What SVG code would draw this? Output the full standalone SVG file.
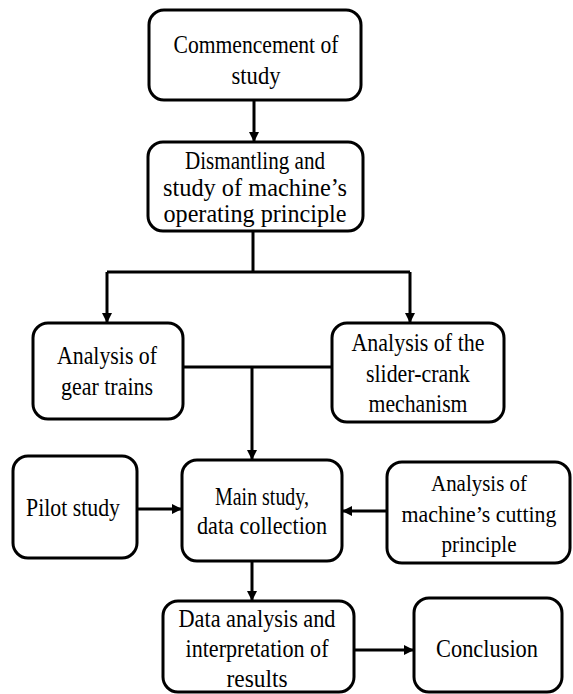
<svg xmlns="http://www.w3.org/2000/svg" width="573" height="694" viewBox="0 0 573 694">
<style>
.box{fill:#fff;stroke:#000;stroke-width:3}
.t{font-family:"Liberation Serif","Times New Roman",serif;font-size:25px;fill:#000;text-anchor:middle}
.s{font-size:23px}
.c{fill:none;stroke:#000;stroke-width:3}
</style>
<defs>
<marker id="ah" markerWidth="10" markerHeight="10" refX="9" refY="5" orient="auto" markerUnits="userSpaceOnUse">
<path d="M0,0 L10,5 L0,10 z" fill="#000"/>
</marker>
</defs>
<rect width="573" height="694" fill="#fff"/>
<g id="connectors">
<path class="c" d="M254,100 V141" marker-end="url(#ah)"/>
<path class="c" d="M253,231 V272"/>
<path class="c" d="M107,272 H410"/>
<path class="c" d="M107,272 V322" marker-end="url(#ah)"/>
<path class="c" d="M410,272 V322" marker-end="url(#ah)"/>
<path class="c" d="M183,367 H332"/>
<path class="c" d="M252,367 V459" marker-end="url(#ah)"/>
<path class="c" d="M137,509 H181" marker-end="url(#ah)"/>
<path class="c" d="M387,511 H343" marker-end="url(#ah)"/>
<path class="c" d="M252,561 V600" marker-end="url(#ah)"/>
<path class="c" d="M354,650 H413" marker-end="url(#ah)"/>
</g>
<g id="n1"><rect class="box" x="149" y="10" width="212" height="90" rx="15"/>
<text class="t" x="256" y="53" textLength="165" lengthAdjust="spacingAndGlyphs">Commencement of</text><text class="t" x="256" y="84" textLength="49" lengthAdjust="spacingAndGlyphs">study</text></g>
<g id="n2"><rect class="box" x="148" y="142" width="215" height="89" rx="15"/>
<text class="t" x="255" y="169" textLength="140" lengthAdjust="spacingAndGlyphs">Dismantling and</text><text class="t" x="255" y="196" textLength="184" lengthAdjust="spacingAndGlyphs">study of machine’s</text><text class="t" x="255" y="222" textLength="183" lengthAdjust="spacingAndGlyphs">operating principle</text></g>
<g id="n3"><rect class="box" x="33" y="323" width="150" height="96" rx="15"/>
<text class="t" x="107" y="364" textLength="100" lengthAdjust="spacingAndGlyphs">Analysis of</text><text class="t" x="107" y="395" textLength="92" lengthAdjust="spacingAndGlyphs">gear trains</text></g>
<g id="n4"><rect class="box" x="332" y="323" width="172" height="99" rx="15"/>
<text class="t" x="418" y="351" textLength="133" lengthAdjust="spacingAndGlyphs">Analysis of the</text><text class="t" x="418" y="382" textLength="104" lengthAdjust="spacingAndGlyphs">slider-crank</text><text class="t" x="418" y="412" textLength="99" lengthAdjust="spacingAndGlyphs">mechanism</text></g>
<g id="n5"><rect class="box" x="13" y="456" width="124" height="102" rx="15"/>
<text class="t" x="73" y="516" textLength="94" lengthAdjust="spacingAndGlyphs">Pilot study</text></g>
<g id="n6"><rect class="box" x="182" y="460" width="160" height="101" rx="15"/>
<text class="t" x="262" y="505" textLength="94" lengthAdjust="spacingAndGlyphs">Main study,</text><text class="t" x="262" y="534" textLength="130" lengthAdjust="spacingAndGlyphs">data collection</text></g>
<g id="n7"><rect class="box" x="387" y="462" width="183" height="101" rx="15"/>
<text class="t s" x="479" y="491" textLength="96" lengthAdjust="spacingAndGlyphs">Analysis of</text><text class="t s" x="479" y="522" textLength="155" lengthAdjust="spacingAndGlyphs">machine’s cutting</text><text class="t s" x="479" y="552" textLength="75" lengthAdjust="spacingAndGlyphs">principle</text></g>
<g id="n8"><rect class="box" x="163" y="601" width="191" height="91" rx="15"/>
<text class="t" x="257" y="627" textLength="157" lengthAdjust="spacingAndGlyphs">Data analysis and</text><text class="t" x="257" y="657" textLength="143" lengthAdjust="spacingAndGlyphs">interpretation of</text><text class="t" x="257" y="687" textLength="61" lengthAdjust="spacingAndGlyphs">results</text></g>
<g id="n9"><rect class="box" x="414" y="598" width="148" height="94" rx="15"/>
<text class="t" x="487" y="657" textLength="102" lengthAdjust="spacingAndGlyphs">Conclusion</text></g>
</svg>
